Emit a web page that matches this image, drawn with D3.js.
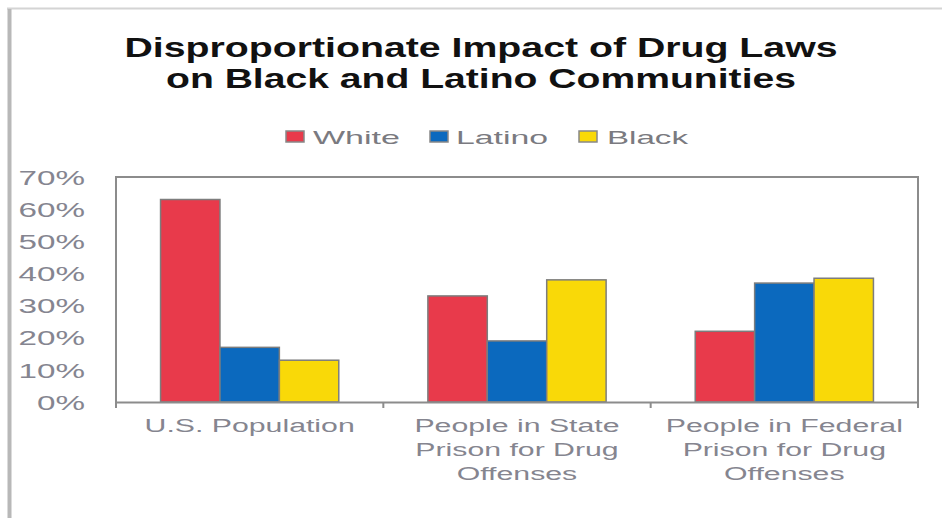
<!DOCTYPE html>
<html><head><meta charset="utf-8">
<script src="https://cdn.jsdelivr.net/npm/d3@7"></script>
<style>
html,body{margin:0;padding:0;background:#fff;}
svg{display:block;font-family:"Liberation Sans",Arial,sans-serif;}
</style></head>
<body>
<svg id="chart" width="942" height="518"></svg>
<script>
// ---- data ----
const categories = [
  ["U.S. Population"],
  ["People in State", "Prison for Drug", "Offenses"],
  ["People in Federal", "Prison for Drug", "Offenses"]
];
const seriesNames = ["White", "Latino", "Black"];
const white  = [63, 33, 22];
const latino = [17, 19, 37];
const black  = [13, 38, 38.5];
const yTicks = [0, 10, 20, 30, 40, 50, 60, 70];

const seriesValues = [white, latino, black];
const colors = ["#E83A4B", "#0B69BE", "#F9D908"];

const svg = d3.select("#chart");
const W = 942, H = 518;
svg.append("rect").attr("width", W).attr("height", H).attr("fill", "#fff");

// frame
svg.append("line").attr("x1", 7).attr("x2", W).attr("y1", 8.5).attr("y2", 8.5)
  .attr("stroke", "#d4d4d4").attr("stroke-width", 2);
svg.append("line").attr("x1", 9.5).attr("x2", 9.5).attr("y1", 9).attr("y2", H)
  .attr("stroke", "#b8b8b8").attr("stroke-width", 4);

const m = {left: 116, right: 918, top: 177, bottom: 402};
const catIdx = categories.map((d, i) => i);
const x0 = d3.scaleBand().domain(catIdx).range([m.left, m.right]).padding(0);
const bw = x0.bandwidth();
const x1 = d3.scaleBand().domain(d3.range(seriesNames.length)).range([bw / 6, bw * 5 / 6]).padding(0);
const y = d3.scaleLinear().domain([0, 70]).range([m.bottom, m.top]);

function stretch(sel, k) {
  sel.each(function() {
    const w = this.getComputedTextLength();
    d3.select(this).attr("textLength", w * k).attr("lengthAdjust", "spacingAndGlyphs");
  });
}

// title
const titleLines = [
  {t: "Disproportionate Impact of Drug Laws", y: 57, w: 713},
  {t: "on Black and Latino Communities", y: 88, w: 630}
];
svg.selectAll("text.title").data(titleLines).enter().append("text")
  .attr("class", "title")
  .attr("x", 481).attr("y", d => d.y)
  .attr("text-anchor", "middle")
  .attr("font-size", 28).attr("font-weight", "bold").attr("fill", "#111")
  .attr("textLength", d => d.w).attr("lengthAdjust", "spacingAndGlyphs")
  .text(d => d.t);

// legend
const legendPos = [
  {sx: 286, tx: 313, tw: 87},
  {sx: 430, tx: 456, tw: 92},
  {sx: 579, tx: 607, tw: 81}
];
const lg = svg.append("g");
seriesNames.forEach((name, i) => {
  lg.append("rect").attr("x", legendPos[i].sx).attr("y", 131).attr("width", 18).attr("height", 11)
    .attr("fill", colors[i]).attr("stroke", "#888").attr("stroke-width", 1.5);
  lg.append("text").attr("x", legendPos[i].tx).attr("y", 143.5)
    .attr("font-size", 18.5).attr("fill", "#7a7a80")
    .attr("textLength", legendPos[i].tw).attr("lengthAdjust", "spacingAndGlyphs")
    .text(name);
});

// y axis
const yAxis = d3.axisLeft(y).tickValues(yTicks).tickSize(0).tickPadding(31)
  .tickFormat(d => d + "%");
const ya = svg.append("g").attr("transform", `translate(${m.left},0)`).call(yAxis);
ya.select(".domain").remove();
ya.selectAll("text").attr("font-size", 20).attr("fill", "#858590")
  .attr("font-family", "Liberation Sans, Arial, sans-serif").attr("dy", "0.36em");
stretch(ya.selectAll("text"), 1.66);

// bars
const groups = svg.append("g").selectAll("g").data(catIdx).enter().append("g")
  .attr("transform", d => `translate(${x0(d)},0)`);
groups.selectAll("rect").data(ci => seriesValues.map((s, si) => ({si, v: s[ci]})))
  .enter().append("rect")
  .attr("x", d => x1(d.si)).attr("width", x1.bandwidth())
  .attr("y", d => y(d.v)).attr("height", d => y(0) - y(d.v))
  .attr("fill", d => colors[d.si]).attr("stroke", "#7d7d7d").attr("stroke-width", 1.5);

// plot frame (top, right, left)
const frame = svg.append("g").attr("stroke", "#8c8c8c").attr("stroke-width", 2).attr("fill", "none");
frame.append("path").attr("d", `M${m.left},${m.bottom}V${m.top}H${m.right}V${m.bottom}`);

// x axis
const xAxis = d3.axisBottom(x0).tickSize(0).tickFormat("");
const xa = svg.append("g").attr("transform", `translate(0,${m.bottom})`).call(xAxis);
xa.select(".domain").attr("stroke", "#8c8c8c").attr("stroke-width", 2);
xa.selectAll(".tick").remove();
const boundaries = catIdx.map(i => x0(i)).concat([m.right]);
xa.selectAll("line.bt").data(boundaries).enter().append("line")
  .attr("class", "bt").attr("x1", d => d).attr("x2", d => d).attr("y1", 0).attr("y2", 6)
  .attr("stroke", "#8c8c8c").attr("stroke-width", 2);

// category labels
categories.forEach((lines, ci) => {
  lines.forEach((line, li) => {
    const t = svg.append("text")
      .attr("x", x0(ci) + bw / 2).attr("y", 432 + li * 24)
      .attr("text-anchor", "middle").attr("font-size", 18).attr("fill", "#85858f")
      .text(line);
    stretch(t, 1.68);
  });
});
</script>
</body></html>
